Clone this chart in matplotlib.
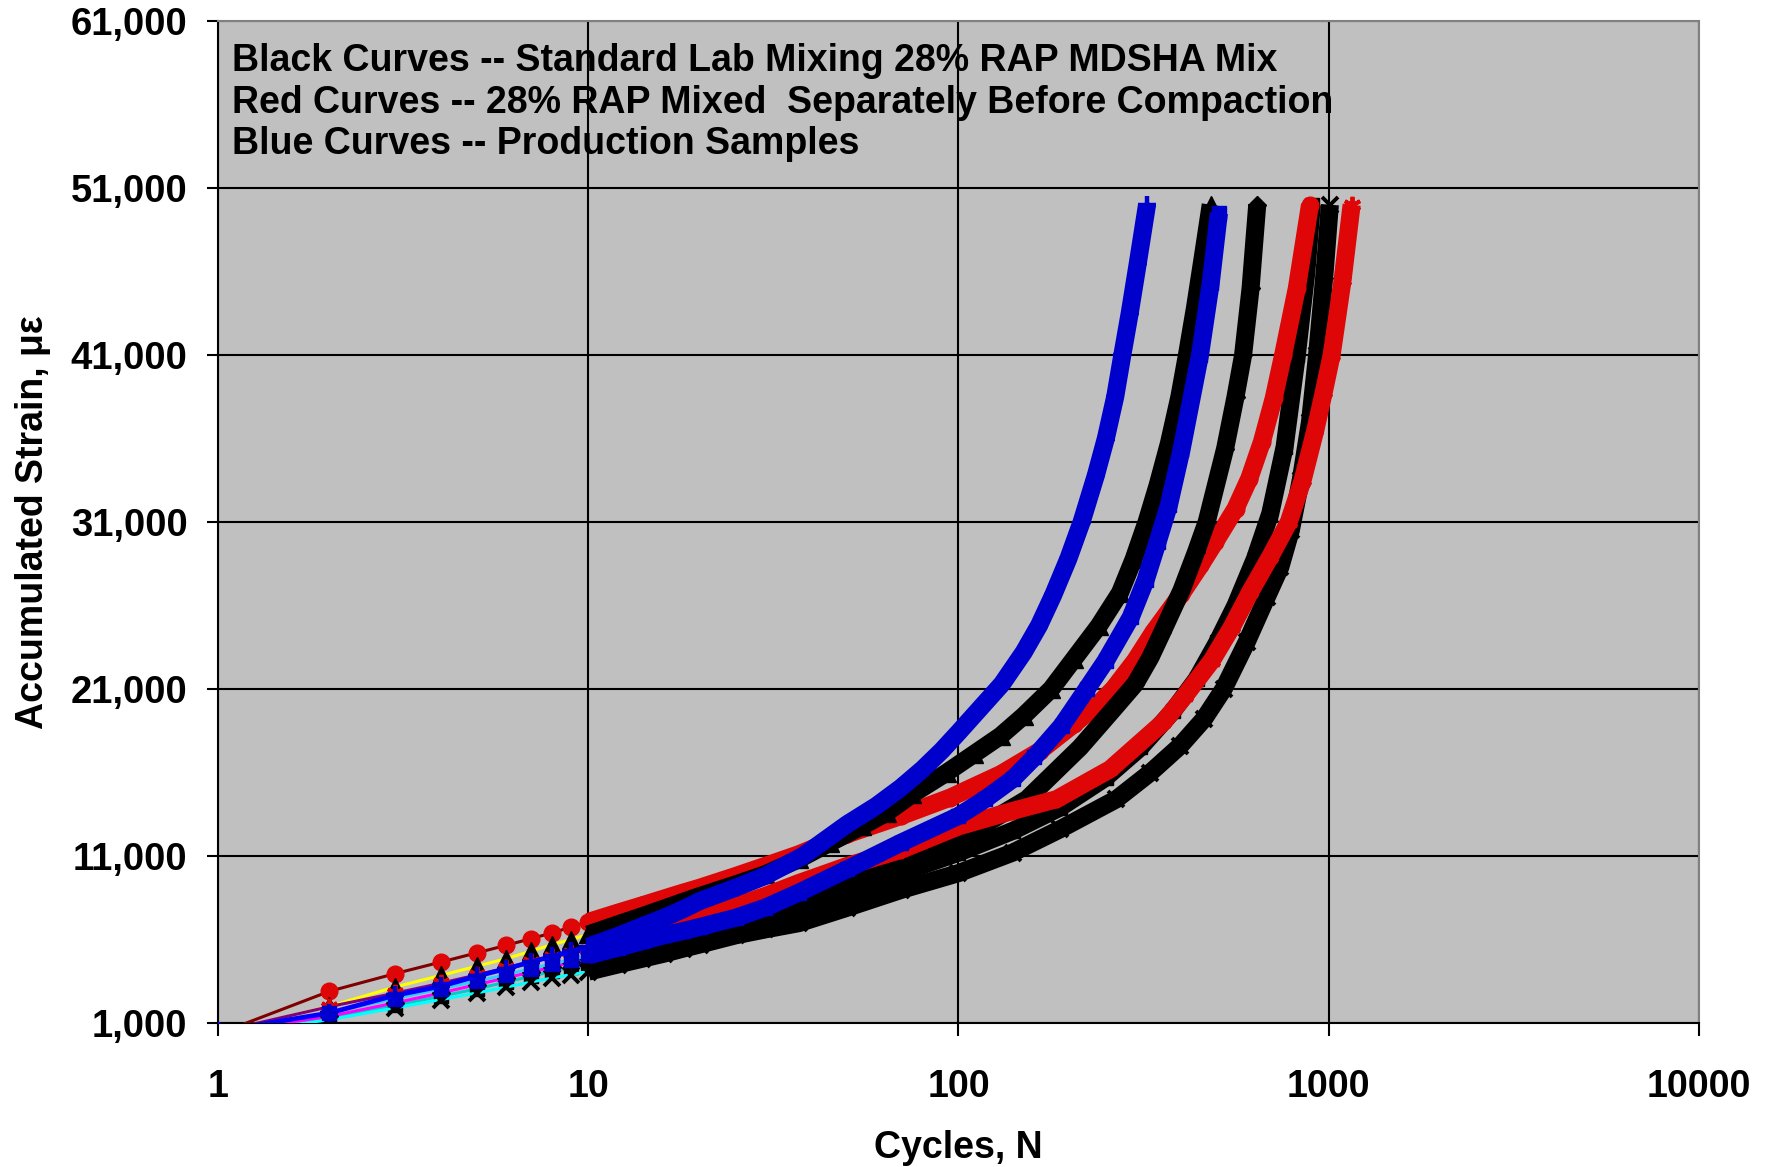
import numpy as np
import matplotlib
matplotlib.use("Agg")
import matplotlib.pyplot as plt
from matplotlib.ticker import FixedLocator, FuncFormatter, NullLocator

plt.rcParams['font.family'] = ['Liberation Sans', 'DejaVu Sans']
plt.rcParams['font.weight'] = 'bold'

LOW_N = [1, 2, 3, 4, 5, 6, 7, 8, 9, 10, 12, 14, 16, 18, 20, 25, 30]

# ---- data (cycles N, accumulated strain in microstrain) ----
# Black curves -- standard lab mixing
tri_N = LOW_N + [37, 45, 55, 64, 75, 93, 110, 130, 150, 178, 205, 239, 273, 297, 322,
                 345, 370, 395, 414, 435, 455, 480]
tri_S = [390, 2000, 3150, 3850, 4400, 4850, 5300, 5700, 6000, 6300, 6900, 7400, 7850, 8250,
         8600, 9300, 9900, 10800, 11800, 12800, 13600, 14700, 16000, 17100, 18200, 19400,
         21000, 22800, 24760, 26760, 28760, 31000, 33200, 35700, 38500, 41000, 43800,
         46600, 50000]

dia_N = LOW_N + [37, 50, 70, 100, 153, 213, 260, 300, 330, 355, 400, 438, 468, 525, 560,
                 587, 615, 641]
dia_S = [400, 1400, 2200, 2800, 3300, 3700, 4050, 4350, 4650, 4900, 5300, 5650, 5950, 6250,
         6475, 7100, 7600, 8375, 9500, 10770, 11970, 14400, 17500, 19700, 21300, 22900,
         24400, 26900, 29200, 31000, 35400, 38500, 41000, 45000, 50000]

bsq_N = LOW_N + [37, 50, 70, 100, 140, 188, 250, 310, 380, 440, 500, 560, 632, 695, 760,
                 820, 870, 900]
bsq_S = [300, 1300, 2050, 2600, 3050, 3450, 3800, 4100, 4350, 4600, 5050, 5400, 5700, 5950,
         6200, 6800, 7250, 7775, 8800, 10000, 11200, 12500, 13900, 15700, 17500, 19700,
         21600, 23800, 26000, 28800, 31500, 35500, 41000, 46000, 50000]

bx_N = LOW_N + [37, 50, 70, 100, 140, 188, 267, 330, 397, 460, 520, 600, 680, 740, 790,
                840, 890, 930, 975, 1007]
bx_S = [250, 1200, 1900, 2400, 2800, 3150, 3450, 3700, 3900, 4075, 4500, 4850, 5150, 5450,
        5700, 6250, 6600, 6977, 7900, 8970, 9975, 11200, 12600, 14400, 16000, 17600, 19200,
        21000, 23800, 26500, 28300, 30500, 33500, 37000, 41000, 46000, 50000]

# Red curves -- RAP mixed separately before compaction
rc_N = LOW_N + [37, 50, 70, 95, 130, 166, 205, 241, 262, 300, 336, 400, 450, 493, 560,
                610, 660, 710, 753, 820, 890]
rc_S = [350, 2900, 3950, 4650, 5200, 5650, 6050, 6400, 6750, 7050, 7600, 8050, 8450, 8800,
        9100, 9800, 10400, 11100, 12300, 13400, 14500, 15900, 17300, 18900, 20200, 21000,
        22700, 24400, 26700, 28400, 29800, 31800, 33600, 35800, 38400, 41000, 45000, 50000]

ra_N = LOW_N + [37, 50, 70, 100, 140, 184, 257, 357, 409, 483, 547, 613, 694, 780, 850,
                920, 970, 1018, 1090, 1153]
ra_S = [450, 1980, 2780, 3380, 3880, 4300, 4650, 4950, 5200, 5375, 5850, 6250, 6650, 7000,
        7373, 8000, 8600, 9375, 10400, 11370, 12770, 13700, 14400, 16200, 19000, 20600,
        22700, 24700, 26800, 28900, 31000, 33500, 36500, 38800, 41000, 45500, 50000]

# Blue curves -- production samples
bp_N = LOW_N + [38, 50, 60, 70, 80, 90, 100, 115, 131, 150, 165, 180, 198, 215, 235, 250,
                265, 277, 290, 305, 323]
bp_S = [500, 1600, 2650, 3200, 3800, 4250, 4650, 5000, 5300, 5575, 6200, 6800, 7300, 7800,
        8300, 9100, 9800, 11000, 12900, 14000, 15100, 16200, 17300, 18400, 19900, 21300,
        23200, 24800, 26600, 28800, 31000, 33800, 36000, 38500, 41000, 43500, 46500, 50000]

bs_N = LOW_N + [37, 50, 70, 100, 118, 140, 160, 190, 222, 250, 292, 320, 345, 370, 400,
                449, 480, 505]
bs_S = [500, 1600, 2450, 3050, 3500, 3900, 4250, 4550, 4800, 5050, 5500, 5900, 6250, 6500,
        6750, 7300, 7900, 8800, 10200, 11800, 13400, 14400, 15600, 16900, 18800, 21000,
        22700, 25300, 27500, 29800, 32000, 35300, 41000, 45300, 49500]

RED = '#DE0606'
BLUE = '#0000CC'

# drawing order: later series are drawn on top
# (N, S, marker, marker colour, marker size, edge width, thin line colour)
series = [
    (bsq_N, bsq_S, 's', 'black', 10, 1, '#00CCCC'),
    (bx_N, bx_S, 'x', 'black', 11, 2.8, '#00FFFF'),
    (rc_N, rc_S, 'o', RED, 12, 1, '#800000'),
    (tri_N, tri_S, '^', 'black', 12.5, 1, '#FFFF00'),
    (dia_N, dia_S, 'D', 'black', 9, 1, '#FF00FF'),
    (ra_N, ra_S, (6, 2, 0), RED, 12.5, 2.8, '#800080'),
    (bs_N, bs_S, 's', BLUE, 10.5, 1, '#33CCFF'),
    (bp_N, bp_S, '+', BLUE, 13, 3.2, '#0000FF'),
]

fig = plt.figure(figsize=(17.81, 11.67), dpi=100)
ax = fig.add_axes([218 / 1781, 144 / 1167, (1699 - 218) / 1781, (1023 - 21) / 1167])
ax.set_facecolor('#C0C0C0')

for i, (N, S, mk, mc, ms, mew, lc) in enumerate(series):
    N = np.asarray(N, float)
    S = np.asarray(S, float)
    z = 3 + i * 0.1
    ax.plot(N, S, color=lc, lw=2.2 if lc != '#0000FF' else 3.4, zorder=z,
            solid_joinstyle='round')
    band = N >= 10
    ax.plot(N[band], S[band], color=mc, lw=13, zorder=z + 0.01,
            solid_capstyle='butt', solid_joinstyle='round')
    ax.plot(N, S, linestyle='none', marker=mk, markersize=ms, color=mc,
            markeredgecolor=mc, markeredgewidth=mew, zorder=z + 0.02)

ax.set_xscale('log')
ax.set_xlim(1, 10000)
ax.set_ylim(1000, 61000)

xt = [1, 10, 100, 1000, 10000]
yt = [1000, 11000, 21000, 31000, 41000, 51000, 61000]
ax.xaxis.set_major_locator(FixedLocator(xt))
ax.xaxis.set_minor_locator(NullLocator())
ax.xaxis.set_major_formatter(FuncFormatter(lambda v, p: f"{v:.0f}"))
ax.yaxis.set_major_locator(FixedLocator(yt))
ax.yaxis.set_major_formatter(FuncFormatter(lambda v, p: f"{v:,.0f}"))

ax.grid(True, color='black', lw=1.5, zorder=1)
ax.set_axisbelow(True)
for s in ['top', 'right']:
    ax.spines[s].set_color('#808080')
    ax.spines[s].set_linewidth(1.5)
for s in ['left', 'bottom']:
    ax.spines[s].set_color('black')
    ax.spines[s].set_linewidth(1.5)

ax.tick_params(axis='x', direction='out', length=9, width=1.5, pad=24,
               labelsize=27)
ax.tick_params(axis='y', direction='out', length=8, width=1.5, pad=14,
               labelsize=27.5)
for lab in ax.get_xticklabels() + ax.get_yticklabels():
    lab.set_fontweight('bold')

ax.set_xlabel('Cycles, N', fontsize=27, fontweight='bold', labelpad=18)
ax.set_ylabel('Accumulated Strain, με', fontsize=27, fontweight='bold', labelpad=14)

txt = ("Black Curves -- Standard Lab Mixing 28% RAP MDSHA Mix\n"
       "Red Curves -- 28% RAP Mixed  Separately Before Compaction\n"
       "Blue Curves -- Production Samples")
ax.text(232 / 1781, 1 - 43 / 1167, txt, transform=fig.transFigure, fontsize=27,
        fontweight='bold', va='top', ha='left', linespacing=1.2, zorder=10)

fig.savefig('out.png', dpi=100)
